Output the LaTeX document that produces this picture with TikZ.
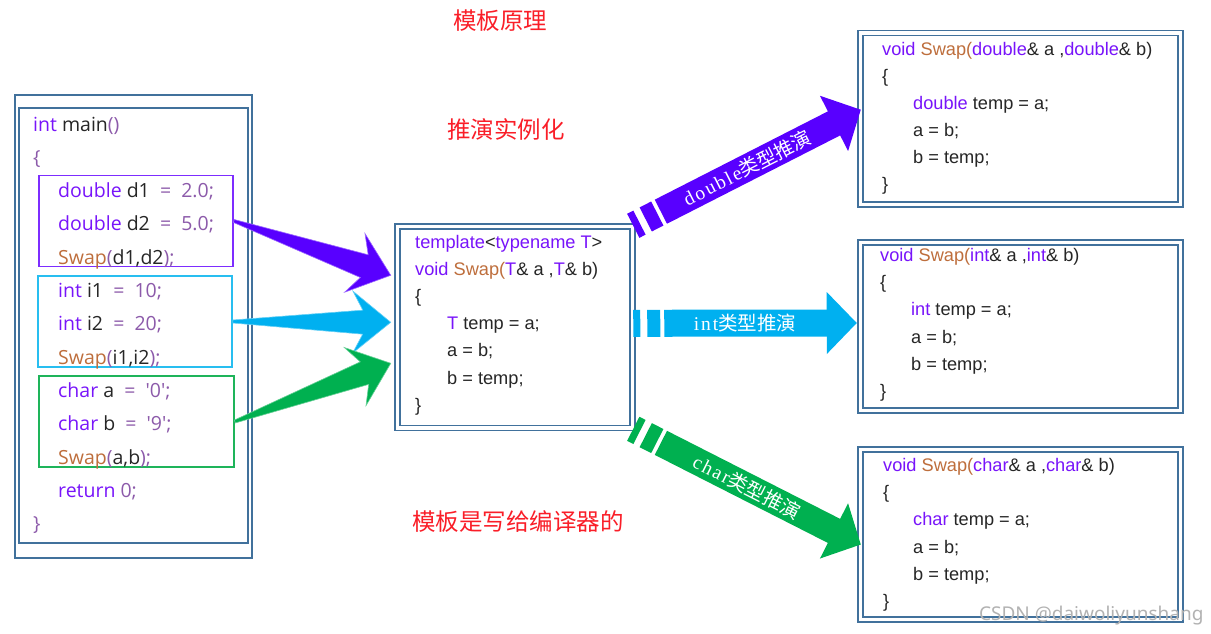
\documentclass[tikz,border=0pt]{standalone}
\usepackage{fontspec}
\setmainfont{Liberation Sans}
\newfontfamily\cjkfont{Noto Sans CJK SC}
\newfontfamily\yhfont{Open Sans}
\newfontfamily\lblfont[LetterSpace=10]{Liberation Serif}
\newfontfamily\wmfont{Noto Sans}
\usetikzlibrary{calc}

\definecolor{kwc}{RGB}{120,20,250}
\definecolor{fnc}{RGB}{190,110,60}
\definecolor{opc}{RGB}{140,90,170}
\definecolor{framec}{RGB}{65,113,156}
\definecolor{titlec}{RGB}{250,30,40}
\definecolor{dblc}{RGB}{88,0,255}
\definecolor{intc}{RGB}{0,176,240}
\definecolor{chrc}{RGB}{0,176,80}
\definecolor{dboxc}{RGB}{125,45,255}
\definecolor{iboxc}{RGB}{40,190,240}
\definecolor{cboxc}{RGB}{30,180,90}

\newcommand\kw[1]{\textcolor{kwc}{#1}}
\newcommand\fn[1]{\textcolor{fnc}{#1}}
\newcommand\op[1]{\textcolor{opc}{#1}}
\newcommand\sq{\textquotesingle}

% tapered arrow: tail, tip, colour
\newcommand\fatarrow[3]{%
  \coordinate (nb) at ($(#2)!28pt!(#1)$);
  \coordinate (bb) at ($(#2)!38pt!(#1)$);
  \filldraw[fill=#3, draw=#3!60!white, line width=0.6pt]
    ($(#1)!1.5pt!90:(#2)$) -- ($(nb)!12pt!-90:(#1)$) -- ($(bb)!31pt!-90:(#1)$) -- (#2)
    -- ($(bb)!31pt!90:(#1)$) -- ($(nb)!12pt!90:(#1)$) -- ($(#1)!1.5pt!-90:(#2)$) -- cycle;}

% striped block arrow: tail, tip, colour, label
\newcommand\blockarrow[4]{%
  \draw[#3, line width=27pt] (#1) -- ($(#1)!7pt!(#2)$);
  \draw[#3, line width=27pt] ($(#1)!14pt!(#2)$) -- ($(#1)!27pt!(#2)$);
  \draw[#3, line width=27pt] ($(#1)!31pt!(#2)$) -- ($(#2)!29pt!(#1)$);
  \coordinate (hb) at ($(#2)!30pt!(#1)$);
  \fill[#3] ($(hb)!31pt!90:(#2)$) -- (#2) -- ($(hb)!31pt!-90:(#2)$) -- cycle;
  \path (#1) -- node[sloped, lbl] {#4} (#2);}

\tikzset{
  fnbox/.style={draw=framec, line width=1.5pt, double=white, double distance=3.5pt, inner sep=0pt},
  subbox/.style={draw=#1, line width=1.8pt, minimum width=194pt, minimum height=91pt, inner sep=0pt},
  codetxt/.style={align=left, anchor=base west, inner sep=0pt, text=black!85},
  title/.style={font=\cjkfont\fontsize{23.5}{28}\selectfont, text=titlec},
  lbl/.style={text=white, font=\fontsize{19.5}{22}\selectfont, inner sep=0pt}
}

\begin{document}
\begin{tikzpicture}[x=1pt,y=-1pt]
\useasboundingbox (0,0) rectangle (1211,634);
\fill[white] (0,0) rectangle (1211,634);

% titles
\node[title] (t1) at (500,21) {模板原理};
\node[title] (t2) at (506,129) {推演实例化};
\node[title] (t3) at (518,522) {模板是写给编译器的};

% main() -- code nodes sit on the baseline of their last line
\draw[framec, line width=2pt] (15,95) rectangle (252,558);
\draw[framec, line width=1.6pt] (19,108) rectangle (248,543);
\node[subbox=dboxc] (dbox) at (136,221) {};
\node[subbox=iboxc] (ibox) at (135,321.5) {};
\node[subbox=cboxc, minimum width=195pt] (cbox) at (136.5,421.5) {};
\node[codetxt, font=\yhfont\fontsize{19.5}{33.3}\selectfont] (mainsrc) at (33,530.6) {%
  \kw{int} main\op{()}\\
  \op{\{}\\
  \hspace*{25pt}\kw{double} d1 \op{\ = \ 2.0;}\\
  \hspace*{25pt}\kw{double} d2 \op{\ = \ 5.0;}\\
  \hspace*{25pt}\fn{Swap}\op{(}d1,d2\op{);}\\
  \hspace*{25pt}\kw{int} i1 \op{\ = \ 10;}\\
  \hspace*{25pt}\kw{int} i2 \op{\ = \ 20;}\\
  \hspace*{25pt}\fn{Swap}\op{(}i1,i2\op{);}\\
  \hspace*{25pt}\kw{char} a \op{\ = \ \sq0\sq;}\\
  \hspace*{25pt}\kw{char} b \op{\ = \ \sq9\sq;}\\
  \hspace*{25pt}\fn{Swap}\op{(}a,b\op{);}\\
  \hspace*{25pt}\kw{return} \op{0;}\\
  \op{\}}};

% template
\node[fnbox, minimum width=235pt, minimum height=201.5pt] (tmpl) at (515,327.3) {};
\node[codetxt, font=\fontsize{18.2}{27.2}\selectfont] (tmplsrc) at (415,411.2) {%
  \kw{template}<\kw{typename} \kw{T}>\\
  \kw{void} \fn{Swap(}\kw{T}\& a ,\kw{T}\& b)\\
  \{\\
  \hspace*{32pt}\kw{T} temp = a;\\
  \hspace*{32pt}a = b;\\
  \hspace*{32pt}b = temp;\\
  \}};

% instances
\node[fnbox, minimum width=320pt, minimum height=171.5pt] (dfun) at (1020.5,118.75) {};
\node[codetxt, font=\fontsize{18.2}{26.9}\selectfont] (dsrc) at (882,190) {%
  \kw{void} \fn{Swap(}\kw{double}\& a ,\kw{double}\& b)\\
  \{\\
  \hspace*{31pt}\kw{double} temp = a;\\
  \hspace*{31pt}a = b;\\
  \hspace*{31pt}b = temp;\\
  \}};
\node[fnbox, minimum width=320pt, minimum height=168pt] (ifun) at (1020.5,326.5) {};
\node[codetxt, font=\fontsize{18.2}{27.1}\selectfont] (isrc) at (880,397.2) {%
  \kw{void} \fn{Swap(}\kw{int}\& a ,\kw{int}\& b)\\
  \{\\
  \hspace*{31pt}\kw{int} temp = a;\\
  \hspace*{31pt}a = b;\\
  \hspace*{31pt}b = temp;\\
  \}};
\node[fnbox, minimum width=320pt, minimum height=170pt] (cfun) at (1020.5,534.5) {};
\node[codetxt, font=\fontsize{18.2}{27.1}\selectfont] (csrc) at (883,607.2) {%
  \kw{void} \fn{Swap(}\kw{char}\& a ,\kw{char}\& b)\\
  \{\\
  \hspace*{30pt}\kw{char} temp = a;\\
  \hspace*{30pt}a = b;\\
  \hspace*{30pt}b = temp;\\
  \}};

% calls -> template
\coordinate (dtip) at ($(tmpl.west)+(-6,-52)$);
\coordinate (itip) at ($(tmpl.west)+(-6,-5)$);
\coordinate (ctip) at ($(tmpl.west)+(-6,36)$);
\fatarrow{dbox.east}{dtip}{dblc}
\fatarrow{ibox.east}{itip}{intc}
\fatarrow{cbox.east}{ctip}{chrc}

% template -> instances
\coordinate (dtail) at (tmpl.north east);
\coordinate (dhead) at ($(dfun.west)+(1,-9)$);
\coordinate (itail) at ($(tmpl.east)+(0,-4)$);
\coordinate (ihead) at ($(ifun.west)+(-3,-3.5)$);
\coordinate (ctail) at (tmpl.south east);
\coordinate (chead) at ($(cfun.west)+(1,10)$);
\blockarrow{dtail}{dhead}{dblc}{{\lblfont double}{\cjkfont 类型推演}}
\blockarrow{itail}{ihead}{intc}{{\lblfont int}{\cjkfont 类型推演}}
\blockarrow{ctail}{chead}{chrc}{{\lblfont char}{\cjkfont 类型推演}}

\node[anchor=base east, text=black!30, font=\wmfont\fontsize{19}{22}\selectfont] (mark) at (1207,620) {CSDN @daiwoliyunshang};
\end{tikzpicture}
\end{document}
